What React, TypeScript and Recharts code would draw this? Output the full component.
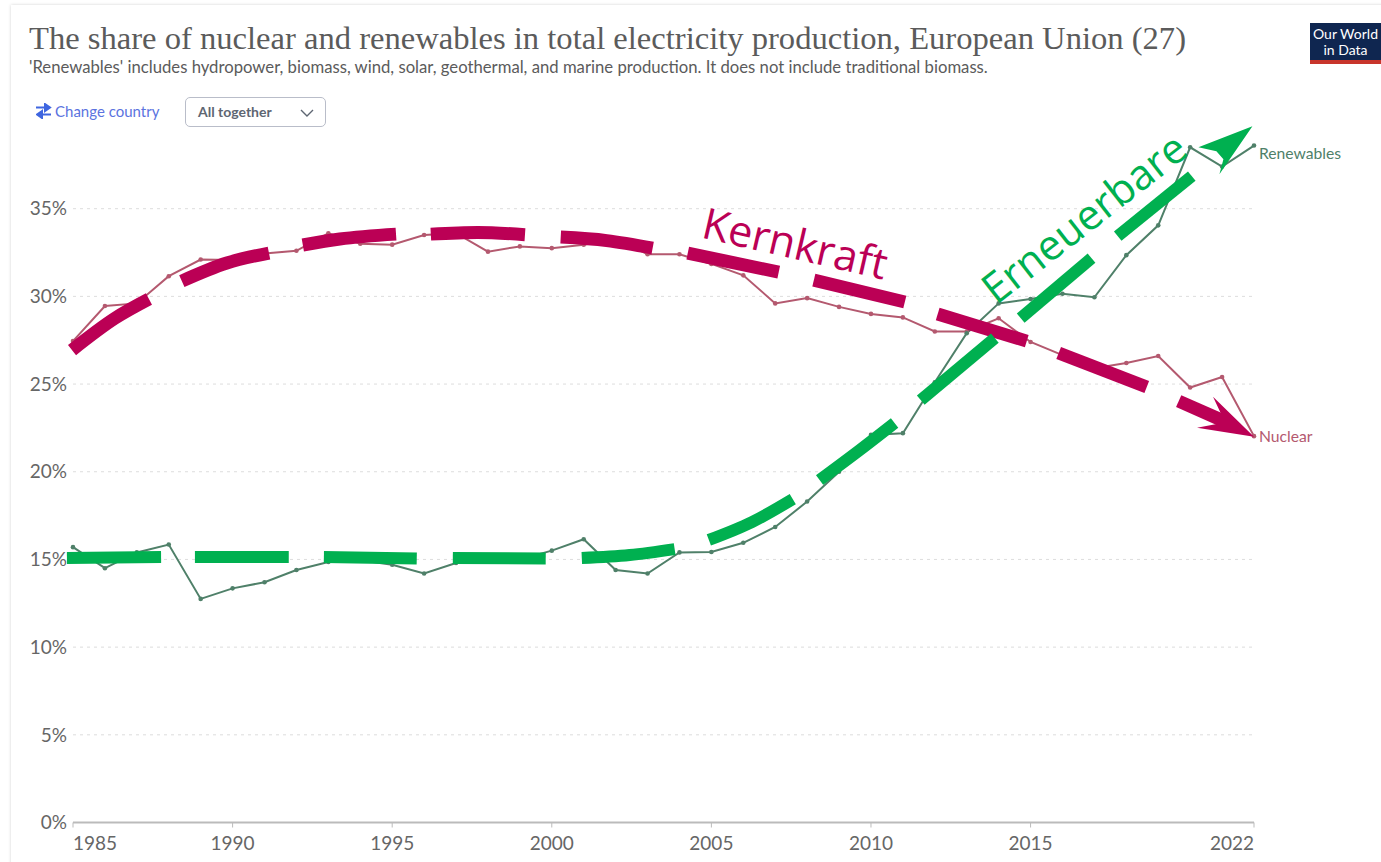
import { LineChart, Line, XAxis, YAxis, CartesianGrid, ReferenceDot } from "recharts"

const years = [
  1985, 1986, 1987, 1988, 1989, 1990, 1991, 1992, 1993, 1994, 1995, 1996, 1997,
  1998, 1999, 2000, 2001, 2002, 2003, 2004, 2005, 2006, 2007, 2008, 2009, 2010,
  2011, 2012, 2013, 2014, 2015, 2016, 2017, 2018, 2019, 2020, 2021, 2022,
]
const nuclear = [
  27.45, 29.45, 29.6, 31.15, 32.1, 32.07, 32.45, 32.6, 33.6, 33.0, 32.95, 33.5, 33.6,
  32.55, 32.85, 32.75, 32.95, 33.3, 32.4, 32.4, 31.85, 31.2, 29.6, 29.9, 29.4, 29.0,
  28.8, 28.0, 28.0, 28.75, 27.4, 26.65, 25.9, 26.2, 26.6, 24.8, 25.4, 22.03,
]
const renewables = [
  15.7, 14.5, 15.4, 15.85, 12.75, 13.35, 13.7, 14.4, 14.85, 14.95, 14.7, 14.2, 14.8,
  15.0, 15.0, 15.5, 16.15, 14.4, 14.2, 15.4, 15.42, 15.95, 16.85, 18.3, 20.0, 22.1,
  22.2, 25.1, 27.9, 29.6, 29.85, 30.15, 29.95, 32.35, 34.05, 38.5, 37.4, 38.6,
]
const xTicks = [1985, 1990, 1995, 2000, 2005, 2010, 2015, 2022]
const yTicks = [0, 5, 10, 15, 20, 25, 30, 35]

// hand drawn overlay, one list of [year, share] per dash
const kernkraftDashes = [
  [[1984.97, 26.94], [1986.32, 28.76], [1987.38, 29.85]],
  [[1988.41, 30.87], [1989.82, 31.9], [1991.14, 32.47]],
  [[1992.2, 32.93], [1993.36, 33.27], [1995.12, 33.55]],
  [[1996.21, 33.55], [1997.68, 33.64], [1999.16, 33.52]],
  [[2000.28, 33.38], [2001.72, 33.18], [2003.16, 32.75]],
  [[2004.26, 32.47], [2007.11, 31.38]],
  [[2008.21, 30.93], [2011.06, 29.68]],
  [[2012.09, 29.0], [2014.88, 27.45]],
  [[2015.88, 26.77], [2018.64, 24.83]],
  [[2019.64, 24.03], [2020.98, 22.95]],
]
const erneuerbareDashes = [
  [[1984.81, 15.08], [1987.76, 15.14]],
  [[1988.82, 15.14], [1991.76, 15.14]],
  [[1992.86, 15.14], [1995.77, 15.05]],
  [[1996.9, 15.08], [1999.81, 15.05]],
  [[2000.94, 15.08], [2002.44, 15.25], [2003.85, 15.59]],
  [[2004.92, 16.11], [2006.27, 17.13], [2007.55, 18.44]],
  [[2008.39, 19.53], [2009.65, 21.24], [2010.74, 22.78]],
  [[2011.56, 24.09], [2013.88, 27.62]],
  [[2014.69, 28.76], [2016.91, 32.18]],
  [[2017.73, 33.44], [2020.05, 36.86]],
]

const NUCLEAR_COLOR = "#b4596f"
const RENEWABLES_COLOR = "#4f8069"
const PINK = "#bb0055"
const GREEN = "#00b050"
const SANS = "Lato, sans-serif"

const data = years.map((year, i) => ({ year, nuclear: nuclear[i], renewables: renewables[i] }))

function XTick({ x, y, payload }: any) {
  const first = payload.value === xTicks[0]
  const last = payload.value === xTicks[xTicks.length - 1]
  return (
    <g>
      <line x1={x} x2={x} y1={y} y2={y + 5} stroke="#bbb" strokeWidth={1} />
      <text
        x={x}
        y={y + 27.5}
        fontSize={19}
        fontFamily={SANS}
        fill="#666"
        textAnchor={first ? "start" : last ? "end" : "middle"}
      >
        {payload.value}
      </text>
    </g>
  )
}

function endLabel(text: string, color: string, dy: number) {
  return ({ x, y, index }: any) =>
    index === years.length - 1 ? (
      <text x={x + 5} y={y + dy} fontSize={15.7} fontFamily={SANS} fill={color}>
        {text}
      </text>
    ) : (
      <g />
    )
}

function dashPoints(dash: number[][]) {
  return dash.map(([year, share]) => ({ year, share }))
}

function Word({ cx, cy, angle, color, size, text }: any) {
  return (
    <text
      x={cx}
      y={cy}
      transform={`rotate(${angle} ${cx} ${cy})`}
      textAnchor="middle"
      dominantBaseline="middle"
      fontFamily="'Open Sans', sans-serif"
      fontSize={size}
      fill={color}
    >
      {text}
    </text>
  )
}

export default function App() {
  return (
    <div style={{ position: "absolute", left: 0, top: 0, width: 1381, height: 862, background: "#fff", overflow: "hidden" }}>
      <div style={{ position: "absolute", left: 11, top: 5, width: 1400, height: 900, boxShadow: "0 0 3px rgba(0,0,0,0.18)" }} />

      <div style={{ position: "absolute", left: 29, top: 20, fontFamily: "'Liberation Serif', serif", fontSize: 32.6, color: "#5b5b5b", whiteSpace: "nowrap" }}>
        The share of nuclear and renewables in total electricity production, European Union (27)
      </div>
      <div style={{ position: "absolute", left: 29, top: 57, fontFamily: SANS, fontSize: 16.7, color: "#5b5b5b", whiteSpace: "nowrap" }}>
        'Renewables' includes hydropower, biomass, wind, solar, geothermal, and marine production. It does not include traditional biomass.
      </div>

      <svg style={{ position: "absolute", left: 36, top: 103 }} width={16} height={16} viewBox="0 0 16 16">
        <path d="M0 4.5h11M9 1l5 3.5-5 3.5zM15 11.5H4M6 8l-5 3.5L6 15z" fill="#3f66e0" stroke="#3f66e0" strokeWidth={2} />
      </svg>
      <div style={{ position: "absolute", left: 55, top: 102, fontFamily: SANS, fontSize: 15, color: "#5b73e0", whiteSpace: "nowrap" }}>
        Change country
      </div>
      <div style={{ position: "absolute", left: 185, top: 97, width: 139, height: 28, border: "1px solid #b9bdc9", borderRadius: 5, boxSizing: "content-box" }}>
        <span style={{ position: "absolute", left: 12, top: 5, fontFamily: SANS, fontSize: 14, fontWeight: 700, color: "#5e6672", whiteSpace: "nowrap" }}>
          All together
        </span>
        <svg style={{ position: "absolute", left: 114, top: 11 }} width={14} height={8} viewBox="0 0 14 8">
          <path d="M1 1l6 6 6-6" fill="none" stroke="#5e6672" strokeWidth={1.4} />
        </svg>
      </div>

      <div style={{ position: "absolute", left: 1310, top: 23, width: 71, height: 41, background: "#0f2650", color: "#fff", fontFamily: SANS, fontSize: 14, lineHeight: "16px", textAlign: "center", borderBottom: "4px solid #c8352b", boxSizing: "border-box", paddingTop: 3 }}>
        Our World
        <br />
        in Data
      </div>

      <div style={{ position: "absolute", left: 0, top: 0 }}>
        <LineChart width={1381} height={862} data={data} margin={{ top: 121, right: 127, bottom: 0, left: 0 }}>
          <CartesianGrid horizontal vertical={false} stroke="#ddd" strokeDasharray="3 4" syncWithTicks />
          <XAxis
            dataKey="year"
            type="number"
            domain={[1985, 2022]}
            ticks={xTicks}
            tick={<XTick />}
            tickLine={false}
            tickSize={0}
            tickMargin={0}
            axisLine={{ stroke: "#bbb", strokeWidth: 2 }}
            height={39.5}
            interval={0}
          />
          <YAxis
            type="number"
            domain={[0, 40]}
            ticks={yTicks}
            width={73}
            tickFormatter={(v: number) => `${v}%`}
            tick={{ fontSize: 19, fontFamily: SANS, fill: "#666" }}
            tickLine={false}
            axisLine={false}
            tickSize={0}
            tickMargin={6}
            interval={0}
          />
          <Line
            dataKey="nuclear"
            stroke={NUCLEAR_COLOR}
            strokeWidth={2}
            dot={{ r: 2.3, fill: NUCLEAR_COLOR, stroke: "none" }}
            label={endLabel("Nuclear", NUCLEAR_COLOR, 6)}
            isAnimationActive={false}
          />
          <Line
            dataKey="renewables"
            stroke={RENEWABLES_COLOR}
            strokeWidth={2}
            dot={{ r: 2.3, fill: RENEWABLES_COLOR, stroke: "none" }}
            label={endLabel("Renewables", RENEWABLES_COLOR, 13)}
            isAnimationActive={false}
          />
        </LineChart>
      </div>

      {/* second chart on top so the thick dashes cover the dots of the series.
          One year wider on each side, the first dash starts left of 1985 */}
      <div style={{ position: "absolute", left: 0, top: 0 }}>
        <LineChart width={1381} height={862} margin={{ top: 121, right: 95.07, bottom: 39.5, left: 41.07 }}>
          <XAxis dataKey="year" type="number" domain={[1984, 2023]} hide />
          <YAxis type="number" domain={[0, 40]} hide />
          {kernkraftDashes.map((dash, i) => (
            <Line
              key={`k${i}`}
              data={dashPoints(dash)}
              dataKey="share"
              type="monotone"
              stroke={PINK}
              strokeWidth={13}
              strokeLinecap="butt"
              dot={false}
              isAnimationActive={false}
            />
          ))}
          {erneuerbareDashes.map((dash, i) => (
            <Line
              key={`e${i}`}
              data={dashPoints(dash)}
              dataKey="share"
              type="monotone"
              stroke={GREEN}
              strokeWidth={12}
              strokeLinecap="butt"
              dot={false}
              isAnimationActive={false}
            />
          ))}
          <ReferenceDot
            x={2022}
            y={22}
            ifOverflow="visible"
            shape={({ cx, cy }: any) => (
              <polygon
                transform={`translate(${cx} ${cy})`}
                points="0,0 -41,-40 -33,-23 -38,-17 -36,-13 -57,-9"
                fill={PINK}
              />
            )}
          />
          <ReferenceDot
            x={2021.95}
            y={39.7}
            ifOverflow="visible"
            shape={({ cx, cy }: any) => (
              <polygon
                transform={`translate(${cx} ${cy})`}
                points="0,0 -54,21 -36,25 -29,33 -33,48"
                fill={GREEN}
              />
            )}
          />
          <ReferenceDot
            x={2007.6}
            y={32.8}
            ifOverflow="visible"
            shape={({ cx, cy }: any) => <Word cx={cx} cy={cy} angle={13} color={PINK} size={43} text="Kernkraft" />}
          />
          <ReferenceDot
            x={2016.75}
            y={34.3}
            ifOverflow="visible"
            shape={({ cx, cy }: any) => <Word cx={cx} cy={cy} angle={-38} color={GREEN} size={42} text="Erneuerbare" />}
          />
        </LineChart>
      </div>
    </div>
  )
}
